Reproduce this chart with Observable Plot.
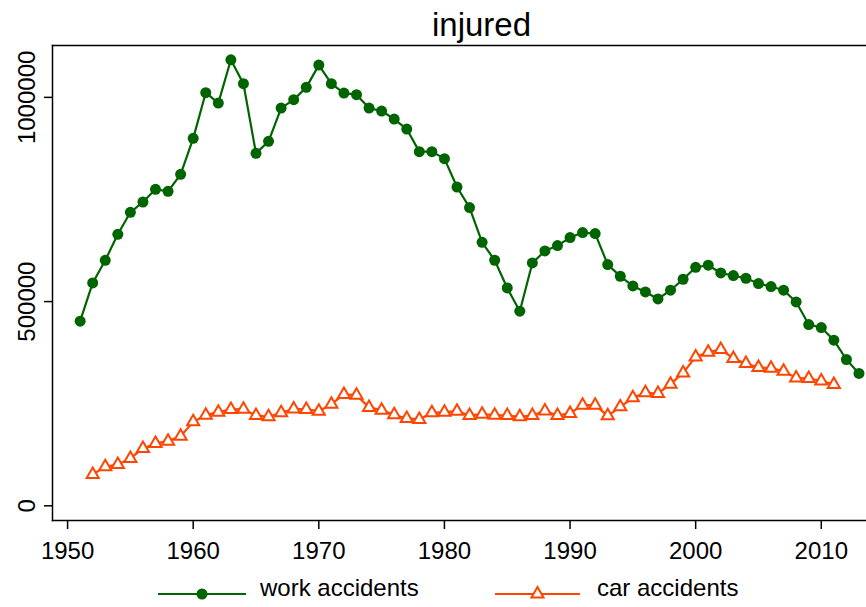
<!DOCTYPE html>
<html>
<head>
<meta charset="utf-8">
<script src="https://cdn.jsdelivr.net/npm/d3@7"></script>
<script src="https://cdn.jsdelivr.net/npm/@observablehq/plot@0.6"></script>
<style>
  body { margin: 0; background: #fff; font-family: "Liberation Sans", Arial, sans-serif; overflow: hidden; }
  #title { height: 40px; box-sizing: border-box; padding-left: 432px; padding-top: 8px; font-size: 33px; line-height: 33px; white-space: nowrap; color: #000; }
  #chart svg { display: block; }
  #legend { position: relative; height: 37px; font-size: 24px; color: #000; }
  #legend svg { position: absolute; top: 0; }
  #legend span { position: absolute; top: 6px; white-space: nowrap; line-height: 24px; }
</style>
</head>
<body>
<div id="title">injured</div>
<div id="chart"></div>
<div id="legend"></div>
<script>
const workYears = [1951,1952,1953,1954,1955,1956,1957,1958,1959,1960,1961,1962,1963,1964,1965,1966,1967,1968,1969,1970,1971,1972,1973,1974,1975,1976,1977,1978,1979,1980,1981,1982,1983,1984,1985,1986,1987,1988,1989,1990,1991,1992,1993,1994,1995,1996,1997,1998,1999,2000,2001,2002,2003,2004,2005,2006,2007,2008,2009,2010,2011,2012,2013];
const workInjured = [452000,545600,601000,664800,718600,743800,775000,770000,811600,899700,1011500,986000,1092000,1033500,863000,892300,973800,994300,1024500,1079000,1033500,1010500,1006600,973800,966500,947000,922500,867100,867100,850000,780500,730100,645200,601200,533400,476400,594600,624000,637100,656700,669000,666500,590600,562000,538300,523600,506500,527800,554700,584000,589000,570100,563700,557100,544200,536800,527800,499100,443800,436500,405400,358200,324000];
const carYears = [1952,1953,1954,1955,1956,1957,1958,1959,1960,1961,1962,1963,1964,1965,1966,1967,1968,1969,1970,1971,1972,1973,1974,1975,1976,1977,1978,1979,1980,1981,1982,1983,1984,1985,1986,1987,1988,1989,1990,1991,1992,1993,1994,1995,1996,1997,1998,1999,2000,2001,2002,2003,2004,2005,2006,2007,2008,2009,2010,2011];
const carInjured = [76800,95400,101300,116000,140400,152700,158300,170500,205500,221900,229300,235900,236600,221200,217800,227600,237300,235900,231700,248800,272600,270900,240800,234200,222700,213900,211400,227600,229300,231700,221200,224400,221900,221200,217800,221200,232400,221200,226100,246400,246400,220200,242200,264300,276500,275000,297800,325400,364600,376100,382700,360700,348400,338600,336900,329600,313200,311700,305800,297000];
const xTicks = [1950,1960,1970,1980,1990,2000,2010];
const yTicks = [0,500000,1000000];
const seriesNames = ["work accidents", "car accidents"];
const workColor = "#006400";
const carColor = "#FF4500";

const work = workYears.map((year, i) => ({year, value: workInjured[i]}));
const car = carYears.map((year, i) => ({year, value: carInjured[i]}));

const chart = Plot.plot({
  width: 866,
  height: 530,
  marginTop: 5,
  marginBottom: 50,
  marginLeft: 52,
  marginRight: 0,
  style: {fontFamily: "Liberation Sans, Arial, sans-serif", fontSize: "24px", color: "#000", background: "#fff", overflow: "visible"},
  x: {domain: [1948.8, 2013.6]},
  y: {domain: [-36000, 1127000]},
  marks: [
    Plot.axisX({ticks: xTicks, tickFormat: d => String(d), tickSize: 9, tickPadding: 12, label: null, strokeWidth: 1.5}),
    Plot.axisY({ticks: yTicks, tickFormat: d => String(d), tickSize: 8, tickPadding: 10, tickRotate: -90, label: null, strokeWidth: 1.5}),
    Plot.frame({anchor: "top", stroke: "#000", strokeWidth: 1.5}),
    Plot.frame({anchor: "left", stroke: "#000", strokeWidth: 1.5}),
    Plot.frame({anchor: "bottom", stroke: "#000", strokeWidth: 1.5}),
    Plot.line(work, {x: "year", y: "value", stroke: workColor, strokeWidth: 2.2}),
    Plot.dot(work, {x: "year", y: "value", r: 5.5, fill: workColor, stroke: "none"}),
    Plot.line(car, {x: "year", y: "value", stroke: carColor, strokeWidth: 2.2}),
    Plot.dot(car, {x: "year", y: "value", symbol: "triangle", r: 4.5, fill: "white", stroke: carColor, strokeWidth: 2})
  ]
});
document.getElementById("chart").appendChild(chart);

// legend
const legend = document.getElementById("legend");
const items = [
  {name: seriesNames[0], color: workColor, lineX: 158, lineW: 88, textX: 260, symbol: "dot"},
  {name: seriesNames[1], color: carColor, lineX: 495, lineW: 85, textX: 597, symbol: "triangle"}
];
for (const it of items) {
  const svg = d3.create("svg").attr("width", it.lineW).attr("height", 37)
    .style("left", it.lineX + "px");
  svg.append("line").attr("x1", 0).attr("x2", it.lineW).attr("y1", 24).attr("y2", 24)
    .attr("stroke", it.color).attr("stroke-width", 2.2);
  if (it.symbol === "dot") {
    svg.append("circle").attr("cx", it.lineW / 2).attr("cy", 24).attr("r", 5.5).attr("fill", it.color);
  } else {
    svg.append("path").attr("transform", `translate(${it.lineW / 2},24)`)
      .attr("d", d3.symbol(d3.symbolTriangle, Math.PI * 20)())
      .attr("fill", "white").attr("stroke", it.color).attr("stroke-width", 2);
  }
  legend.appendChild(svg.node());
  const span = document.createElement("span");
  span.textContent = it.name;
  span.style.left = it.textX + "px";
  legend.appendChild(span);
}
</script>
</body>
</html>
